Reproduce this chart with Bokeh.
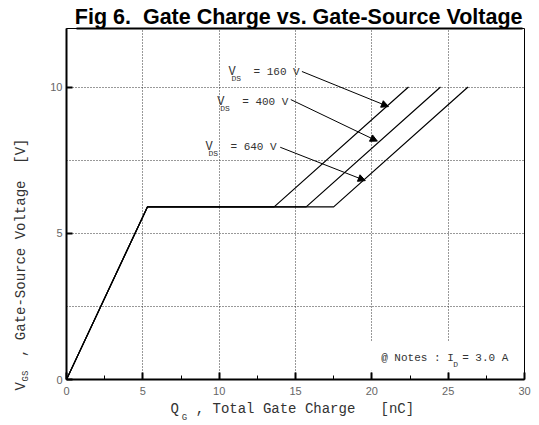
from bokeh.plotting import figure
from bokeh.models import (Range1d, FixedTicker, Label, Arrow, NormalHead, BoxAnnotation,
                          LinearAxis, Title)
from bokeh.embed import file_html
from bokeh.resources import INLINE

NB = "\u00a0"

# ---------------- data ----------------
curve_names = ["160 V", "400 V", "640 V"]
qg_160 = [0, 5.3, 13.6, 22.4]
qg_400 = [0, 5.3, 15.7, 24.5]
qg_640 = [0, 5.3, 17.5, 26.3]
vgs = [0, 5.9, 5.9, 10.0]

x_ticks = [0, 5, 10, 15, 20, 25, 30]
x_minor = [2.5, 7.5, 12.5, 17.5, 22.5, 27.5]
y_ticks = [0, 5, 10]
x_grid = [5, 10, 15, 20, 25]
y_grid = [2.5, 5, 7.5, 10]

arrow_x0 = [15.42, 14.69, 14.00]
arrow_y0 = [10.53, 9.57, 7.94]
arrow_x1 = [21.09, 20.36, 19.57]
arrow_y1 = [9.33, 8.15, 6.80]
vds_label_x = [10.61, 9.87, 9.10]
vds_label_y = [10.51, 9.48, 7.94]

note_x, note_y = 20.61, 0.72
title_text = "Fig 6." + NB + NB + "Gate Charge vs. Gate-Source Voltage"

# axis title pieces (centre positions along the axis, data units)
xlab_main = {14.79: "Q" + NB * 2 + ", Total Gate Charge" + NB * 3 + "[nC]"}
xlab_sub = {7.72: "G"}
ylab_main = {3.93: "V" + NB * 3 + ", Gate-Source Voltage" + NB * 2 + "[V]"}
ylab_sub = {0.116: "GS"}

MONO = "Liberation Mono"
TXT = "#333333"

# ---------------- figure ----------------
p = figure(width=534, height=425, x_range=Range1d(0, 30), y_range=Range1d(0, 12),
           output_backend="svg", toolbar_location=None,
           min_border_left=66, min_border_right=10, min_border_top=28, min_border_bottom=46)
p.outline_line_color = "black"
p.outline_line_width = 1
p.background_fill_color = "white"
p.border_fill_color = "white"

# axes
p.xaxis.ticker = FixedTicker(ticks=x_ticks, minor_ticks=x_minor)
p.yaxis.ticker = FixedTicker(ticks=y_ticks, minor_ticks=[])
for ax in (p.xaxis, p.yaxis):
    ax.axis_line_width = 2
    ax.axis_line_color = "black"
    ax.major_tick_out = 0
    ax.minor_tick_out = 0
    ax.major_tick_line_width = 2
    ax.major_label_text_font = "Liberation Sans"
    ax.major_label_text_font_size = "11px"
    ax.major_label_text_color = "#666666"
p.xaxis.major_tick_in = 7
p.xaxis.minor_tick_in = 4
p.xaxis.major_label_standoff = 7
p.yaxis.major_tick_in = 6
p.yaxis.minor_tick_line_color = None
p.yaxis.major_label_standoff = 4


def text_axis(labels, font_size, standoff, orientation="horizontal"):
    ax = LinearAxis(ticker=FixedTicker(ticks=list(labels.keys()), minor_ticks=[]),
                    major_label_overrides=dict(labels),
                    axis_line_color=None, major_tick_line_color=None,
                    minor_tick_line_color=None, major_tick_in=0, major_tick_out=0,
                    minor_tick_in=0, minor_tick_out=0,
                    major_label_standoff=standoff, major_label_orientation=orientation,
                    major_label_text_font=MONO, major_label_text_font_size=font_size,
                    major_label_text_color=TXT)
    return ax


# x axis title: Q_G , Total Gate Charge [nC]
p.add_layout(text_axis(xlab_main, "14px", 3), "below")
p.add_layout(text_axis(xlab_sub, "9px", -7), "below")
# y axis title: V_GS , Gate-Source Voltage [V]
p.add_layout(text_axis(ylab_sub, "9px", 16, "parallel"), "left")
p.add_layout(text_axis(ylab_main, "14px", -11, "parallel"), "left")

# title underline (an axis line above the frame)
spacer = LinearAxis(ticker=FixedTicker(ticks=[], minor_ticks=[]), axis_line_color=None,
                    major_tick_out=3, major_tick_in=0, minor_tick_out=0, minor_tick_in=0,
                    major_tick_line_color=None, minor_tick_line_color=None)
p.add_layout(spacer, "above")
uline = LinearAxis(ticker=FixedTicker(ticks=[], minor_ticks=[]), axis_line_color="black",
                   axis_line_width=2, bounds=(0.65, 29.87),
                   major_tick_out=0, major_tick_in=0, minor_tick_out=0, minor_tick_in=0,
                   major_tick_line_color=None, minor_tick_line_color=None)
p.add_layout(uline, "above")

p.title = Title(text=title_text, align="right", offset=2, standoff=0,
                text_font="Liberation Sans", text_font_style="bold",
                text_font_size="21.5px", text_color="black")

p.xgrid.ticker = FixedTicker(ticks=x_grid)
p.ygrid.ticker = FixedTicker(ticks=y_grid)
for g in (p.xgrid, p.ygrid):
    g.grid_line_color = "#333333"
    g.grid_line_dash = "1 2"
    g.grid_line_width = 1

# curves
for qg in (qg_160, qg_400, qg_640):
    p.line(qg, vgs, line_color="black", line_width=1.2)

# arrows and VDS labels
for i in range(3):
    p.add_layout(Arrow(end=NormalHead(size=7, fill_color="black", line_color="black", line_width=1),
                       x_start=arrow_x0[i], y_start=arrow_y0[i],
                       x_end=arrow_x1[i], y_end=arrow_y1[i],
                       line_color="black", line_width=1))
    p.add_layout(Label(x=vds_label_x[i], y=vds_label_y[i], text="V", text_font=MONO,
                       text_font_size="12px", text_color=TXT, text_baseline="alphabetic"))
    p.add_layout(Label(x=vds_label_x[i], y=vds_label_y[i], x_offset=3, y_offset=-6, text="DS",
                       text_font=MONO, text_font_size="8px", text_color=TXT,
                       text_baseline="alphabetic"))
    p.add_layout(Label(x=vds_label_x[i], y=vds_label_y[i], x_offset=25, text="= " + curve_names[i],
                       text_font=MONO, text_font_size="11px", text_color=TXT,
                       text_baseline="alphabetic"))

# note box
p.add_layout(BoxAnnotation(left=19.6, right=29.5, bottom=0.3, top=1.3,
                           fill_color="white", fill_alpha=1, line_color=None))
p.add_layout(Label(x=note_x, y=note_y, text="@ Notes : I", text_font=MONO,
                   text_font_size="11px", text_color=TXT, text_baseline="alphabetic"))
p.add_layout(Label(x=note_x, y=note_y, x_offset=72, y_offset=-6, text="D", text_font=MONO,
                   text_font_size="8px", text_color=TXT, text_baseline="alphabetic"))
p.add_layout(Label(x=note_x, y=note_y, x_offset=81, text="= 3.0 A", text_font=MONO,
                   text_font_size="11px", text_color=TXT, text_baseline="alphabetic"))

open("out.html", "w").write(file_html(p, INLINE))
